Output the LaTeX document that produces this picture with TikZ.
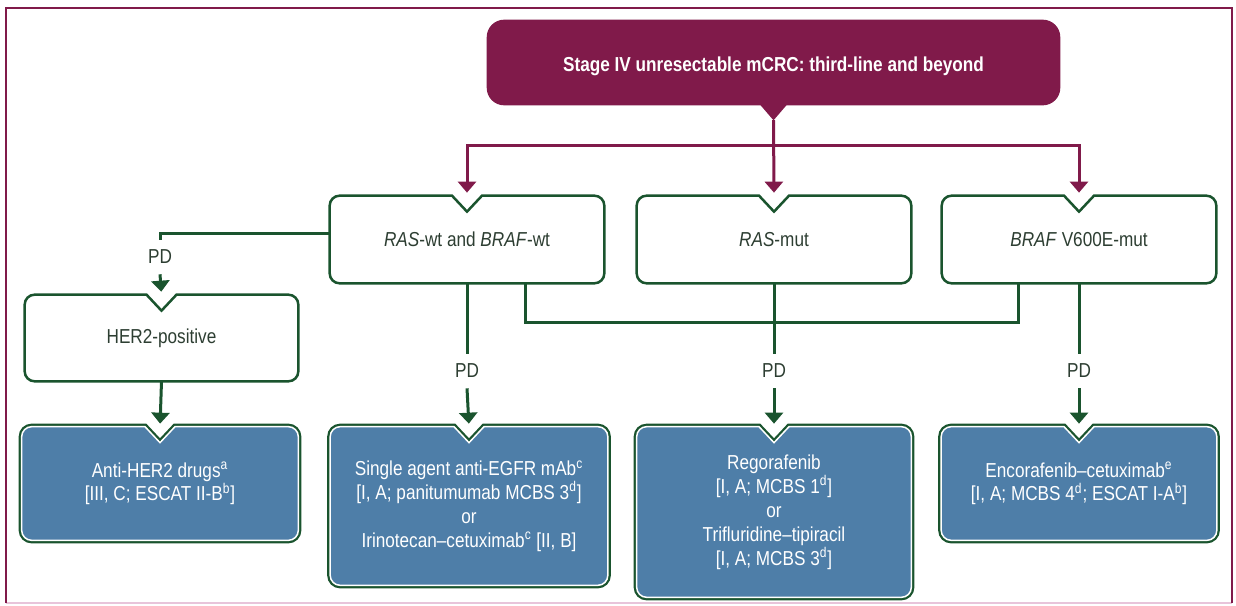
\documentclass[tikz,border=0pt]{standalone}
\usepackage{fontspec}
\setmainfont{Liberation Sans}[FakeStretch=0.85]
\usetikzlibrary{arrows.meta,backgrounds}

\definecolor{escpurple}{RGB}{128,26,74}
\definecolor{escgreen}{RGB}{26,84,46}
\definecolor{escblue}{RGB}{78,126,168}
\definecolor{esctext}{RGB}{45,62,50}
\definecolor{escpink}{RGB}{232,196,218}

\tikzset{
  box/.style={minimum width=5.48cm, minimum height=1.74cm, inner sep=0pt, align=center,
    text=esctext, font=\fontsize{11.5}{13.6}\selectfont},
  drugbox/.style={box, text=white},
  pline/.style={escpurple, line width=0.06cm},
  gline/.style={escgreen, line width=0.06cm},
  arr/.style={-{Triangle[width=0.36cm,length=0.22cm]}, shorten >=0.06cm},
  pdlabel/.style={inner sep=0.2cm, text=esctext, font=\fontsize{11.5}{13.6}\selectfont},
}

% box outline with the notch on top
\newcommand{\notchbox}[2]{%
  \draw[#2] (#1.east) [rounded corners=0.2cm] -- (#1.south east) -- (#1.south west)
    -- (#1.north west) [sharp corners] -- ([xshift=-0.3cm]#1.north)
    -- ([yshift=-0.32cm]#1.north) -- ([xshift=0.3cm]#1.north) [rounded corners=0.2cm]
    -- (#1.north east) -- cycle;}
\newcommand{\drugshape}[1]{%
  \notchbox{#1}{escgreen, line width=0.12cm}
  \notchbox{#1}{fill=escblue, draw=white, line width=0.03cm}}

\begin{document}
\begin{tikzpicture}[x=0.02cm, y=-0.02cm]
  \useasboundingbox (0,0) rectangle (1236,605);

  % frame
  \draw[escpink, line width=0.04cm] (6,603) -- (1232,603);
  \draw[escpurple, line width=0.04cm] (6,603) -- (6,8) -- (1232,8) -- (1232,603);

  % start
  \node[box, minimum width=11.46cm, minimum height=1.7cm, text=white,
    font=\bfseries\fontsize{11.5}{13.6}\selectfont] (start) at (773.5,62.5)
    {\rule{0pt}{0.46cm}Stage IV unresectable mCRC: third-line and beyond};
  \coordinate (starttip) at ([yshift=-0.3cm]start.south);

  % mutation status
  \node[box] (wt) at (467,239.5) {\textit{RAS}-wt and \textit{BRAF}-wt};
  \node[box] (ras) at (774,239.5) {\textit{RAS}-mut};
  \node[box] (braf) at (1079,239.5) {\textit{BRAF} V600E-mut};
  \node[box, minimum width=5.46cm, minimum height=1.72cm] (her2) at (161.5,338) {HER2-positive};

  % treatments
  \node[drugbox, minimum width=5.52cm, minimum height=2.26cm] (antiher2) at (160,483.5)
    {Anti-HER2 drugs\textsuperscript{a}\\{[III, C; ESCAT II-B\textsuperscript{b}]}};
  \node[drugbox, minimum width=5.54cm, minimum height=3.16cm] (egfr) at (469,506)
    {Single agent anti-EGFR mAb\textsuperscript{c}\\{[I, A; panitumumab MCBS 3\textsuperscript{d}]}\\or\\Irinotecan--cetuximab\textsuperscript{c} [II, B]};
  \node[drugbox, minimum height=3.4cm] (rego) at (774,512)
    {Regorafenib\\{[I, A; MCBS 1\textsuperscript{d}]}\\or\\Trifluridine--tipiracil\\{[I, A; MCBS 3\textsuperscript{d}]}};
  \node[drugbox, minimum width=5.5cm, minimum height=2.26cm] (enco) at (1079,483.5)
    {Encorafenib--cetuximab\textsuperscript{e}\\{[I, A; MCBS 4\textsuperscript{d}; ESCAT I-A\textsuperscript{b}]}};

  % PD labels
  \node[pdlabel] (pdher2) at (160,257) {PD};
  \node[pdlabel] (pdwt) at (467,371) {PD};
  \node[pdlabel] (pdras) at (774,371) {PD};
  \node[pdlabel] (pdbraf) at (1079,371) {PD};

  \begin{scope}[on background layer]
    \fill[escpurple, rounded corners=0.35cm] (start.north west) rectangle (start.south east);
    \fill[escpurple] ([xshift=-0.3cm,yshift=0.05cm]start.south) -- (starttip)
      -- ([xshift=0.3cm,yshift=0.05cm]start.south) -- cycle;
    \notchbox{wt}{escgreen, line width=0.05cm, fill=white}
    \notchbox{ras}{escgreen, line width=0.05cm, fill=white}
    \notchbox{braf}{escgreen, line width=0.05cm, fill=white}
    \notchbox{her2}{escgreen, line width=0.05cm, fill=white}
    \drugshape{antiher2}
    \drugshape{egfr}
    \drugshape{rego}
    \drugshape{enco}
  \end{scope}

  % purple connectors
  \draw[pline, arr] (starttip) -- (ras.north);
  \draw[pline, arr] (starttip) -- ++(0,25) -| (wt.north);
  \draw[pline, arr] (starttip) -- ++(0,25) -| (braf.north);

  % green connectors
  \draw[gline] ([yshift=0.13cm]wt.west) -| (pdher2.north);
  \draw[gline, arr] (pdher2.south) -- (her2.north);
  \draw[gline, arr] (her2.south) -- (antiher2.north);
  \draw[gline] (wt.south) -- (pdwt.north);
  \draw[gline, arr] (pdwt.south) -- (egfr.north);
  \draw[gline] (ras.south) -- (pdras.north);
  \draw[gline, arr] (pdras.south) -- (rego.north);
  \draw[gline] (braf.south) -- (pdbraf.north);
  \draw[gline, arr] (pdbraf.south) -- (enco.north);
  \draw[gline] ([xshift=1.18cm]wt.south) -- ++(0,39) -| ([xshift=-1.22cm]braf.south);
\end{tikzpicture}
\end{document}
